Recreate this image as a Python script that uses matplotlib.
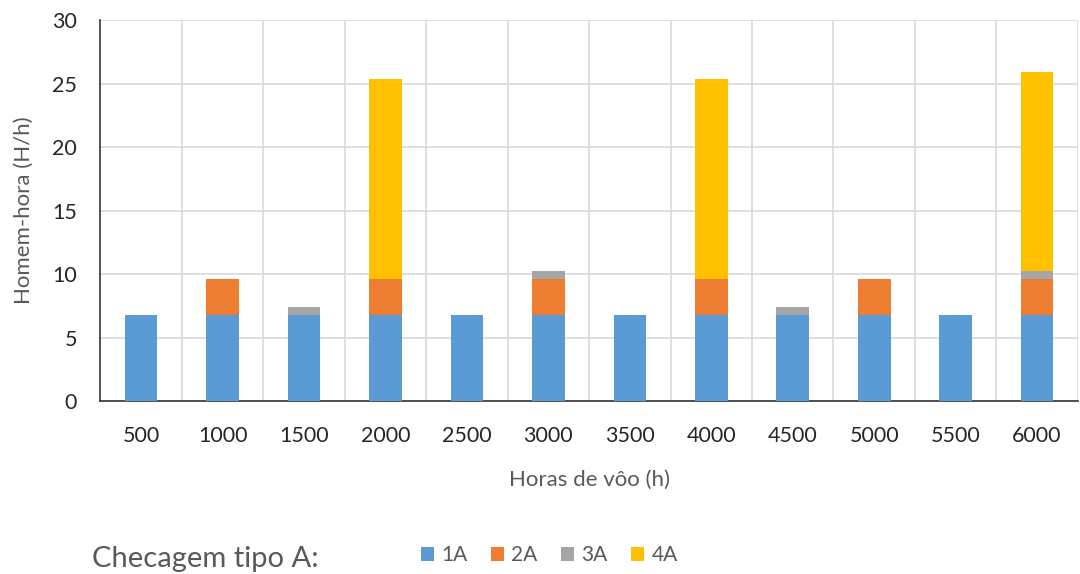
import numpy as np
import matplotlib.pyplot as plt

plt.rcParams['font.family'] = ['Lato', 'DejaVu Sans']

# horas de voo e homem-hora por tipo de checagem
horas = ["500", "1000", "1500", "2000", "2500", "3000",
         "3500", "4000", "4500", "5000", "5500", "6000"]
chk_1a = [6.8, 6.8, 6.8, 6.8, 6.8, 6.8, 6.8, 6.8, 6.8, 6.8, 6.8, 6.8]
chk_2a = [0, 2.8, 0, 2.8, 0, 2.8, 0, 2.8, 0, 2.8, 0, 2.8]
chk_3a = [0, 0, 0.65, 0, 0, 0.65, 0, 0, 0.65, 0, 0, 0.65]
chk_4a = [0, 0, 0, 15.75, 0, 0, 0, 15.75, 0, 0, 0, 15.7]

cores = ["#5B9BD5", "#ED7D31", "#A5A5A5", "#FFC000"]
nomes = ["1A", "2A", "3A", "4A"]

fig = plt.figure(figsize=(10.8, 5.74), dpi=100)
ax = fig.add_axes([0.093, 0.301, 0.905, 0.664])

x = np.arange(len(horas))
base = np.zeros(len(horas))
for vals, cor, nome in zip([chk_1a, chk_2a, chk_3a, chk_4a], cores, nomes):
    ax.bar(x, vals, width=0.4, bottom=base, color=cor, label=nome, zorder=3)
    base += np.array(vals)

ax.set_xlim(-0.5, len(horas) - 0.5)
ax.set_ylim(0, 30)
ax.set_yticks(range(0, 31, 5))
ax.set_xticks(x)
ax.set_xticklabels(horas)

# grade: linhas horizontais nos ticks e verticais entre categorias
ax.grid(axis='y', color='#D9D9D9', linewidth=1.2, zorder=0)
for xv in np.arange(0.5, len(horas), 1.0):
    ax.axvline(xv, color='#D9D9D9', linewidth=1.2, zorder=0)

for s in ['top', 'right']:
    ax.spines[s].set_visible(False)
ax.spines['left'].set_color('#333333')
ax.spines['bottom'].set_color('#333333')
ax.spines['left'].set_linewidth(1.2)
ax.spines['bottom'].set_linewidth(1.2)

ax.tick_params(axis='both', length=0, labelsize=15.5, colors='#262626')
ax.tick_params(axis='x', pad=18)
ax.tick_params(axis='y', pad=17)

ax.set_xlabel("Horas de vôo (h)", fontsize=16, color='#595959', labelpad=17)
ax.set_ylabel("Homem-hora (H/h)", fontsize=16, color='#595959', labelpad=13)

fig.text(0.085, 0.012, "Checagem tipo A:", fontsize=21, color='#595959')
fig.legend(loc='lower left', bbox_to_anchor=(0.372, -0.017), ncol=4, frameon=False,
           fontsize=15, handlelength=0.65, handleheight=0.65, handletextpad=0.35,
           columnspacing=1.1, labelcolor='#595959')

fig.savefig("out.png", dpi=100)
